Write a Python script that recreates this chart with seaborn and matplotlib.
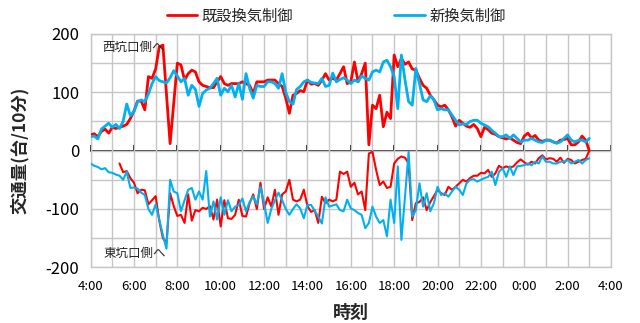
import numpy as np
import pandas as pd
import matplotlib
matplotlib.use("Agg")
import matplotlib.pyplot as plt
import seaborn as sns

# 10-minute samples from 4:00 to 3:00 of the following day
minutes = np.arange(0, 23 * 60 + 1, 10)
hours = 4 + minutes / 60

# traffic towards the west portal (positive) and east portal (negative), vehicles / 10 min
west_old = [
    27, 29, 24, 33, 37, 30,
    40, 38, 40, 42, 45, 55,
    68, 85, 85, 70, 127, 124,
    140, 178, 181, 96, 12, 80,
    150, 147, 121, 132, 138, 135,
    118, 112, 110, 108, 108, 118,
    127, 115, 112, 115, 115, 115,
    118, 115, 112, 98, 118, 118,
    118, 121, 121, 121, 115, 110,
    90, 64, 95, 98, 103, 101,
    121, 114, 115, 112, 121, 132,
    121, 124, 121, 132, 144, 115,
    118, 152, 118, 132, 150, 10,
    78, 72, 95, 41, 66, 55,
    164, 144, 158, 148, 152, 140,
    138, 124, 112, 107, 95, 87,
    78, 75, 78, 70, 58, 42,
    52, 47, 42, 40, 45, 38,
    24, 40, 36, 30, 28, 24,
    22, 20, 22, 18, 14, 12,
    25, 30, 22, 26, 18, 16,
    18, 18, 15, 13, 18, 19,
    21, 10, 10, 15, 25, 18,
    0,
]
west_new = [
    24, 25, 20, 37, 42, 47,
    40, 45, 38, 50, 80, 60,
    67, 84, 87, 84, 97, 115,
    127, 120, 118, 116, 125, 137,
    128, 118, 124, 95, 112, 105,
    76, 98, 104, 107, 115, 124,
    95, 107, 101, 112, 92, 115,
    88, 132, 107, 90, 112, 110,
    110, 118, 118, 115, 107, 132,
    100, 84, 80, 105, 110, 118,
    121, 117, 116, 115, 124, 110,
    112, 133, 118, 122, 125, 121,
    115, 121, 118, 128, 124, 121,
    135, 138, 135, 152, 155, 144,
    127, 72, 164, 121, 84, 78,
    141, 115, 87, 84, 94, 87,
    70, 72, 70, 70, 61, 52,
    44, 46, 45, 50, 52, 52,
    47, 44, 41, 35, 30, 24,
    24, 27, 21, 27, 21, 15,
    18, 18, 21, 18, 15, 14,
    18, 18, 15, 13, 15, 21,
    27, 18, 15, 18, 18, 15,
    21,
]
east_old = [
    np.nan, np.nan, np.nan, np.nan, np.nan, np.nan,
    np.nan, np.nan, -22, -37, -35, -47,
    -55, -73, -67, -68, -92, -85,
    -78, -120, -150, -158, -73, -95,
    -112, -110, -124, -75, -120, -102,
    -104, -98, -100, -95, -118, -84,
    -130, -85, -116, -117, -110, -84,
    -112, -113, -90, -75, -100, -55,
    -100, -80, -96, -67, -110, -75,
    -70, -50, -84, -87, -84, -67,
    -95, -105, -102, -124, -79, -90,
    -84, -87, -84, -36, -40, -36,
    -62, -55, -75, -70, -102, -5,
    -2, -33, -59, -53, -64, -62,
    -22, -14, -10, -12, -22, -119,
    -90, -88, -80, -102, -88, -78,
    -67, -73, -76, -62, -67, -62,
    -56, -50, -53, -47, -43, -43,
    -38, -39, -33, -45, -39, -26,
    -30, -27, -29, -27, -20, -15,
    -20, -24, -19, -22, -13, -8,
    -15, -13, -14, -19, -12, -21,
    -14, -16, -22, -19, -16, -14,
    0,
]
east_new = [
    -22, -26, -28, -32, -30, -37,
    -38, -41, -43, -50, -36, -64,
    -63, -65, -72, -76, -100, -110,
    -92, -118, -145, -168, -50, -70,
    -73, -104, -85, -67, -64, -84,
    -70, -84, -35, -113, -87, -118,
    -80, -110, -85, -104, -96, -93,
    -82, -104, -88, -78, -92, -62,
    -90, -124, -100, -85, -72, -85,
    -100, -110, -100, -92, -99, -116,
    -93, -93, -103, -113, -125, -80,
    -96, -94, -92, -102, -104, -84,
    -99, -102, -107, -110, -133, -124,
    -96, -113, -124, -119, -147, -84,
    -124, -27, -153, -79, -2, -113,
    -102, -56, -96, -73, -104, -90,
    -62, -76, -73, -79, -70, -62,
    -67, -76, -56, -50, -49, -53,
    -50, -47, -45, -36, -59, -36,
    -30, -45, -27, -42, -27, -26,
    -25, -22, -25, -19, -22, -10,
    -19, -19, -22, -22, -19, -19,
    -16, -22, -19, -16, -22, -16,
    -13,
]

tick_hours = list(range(4, 29, 2))
tick_labels = ["4:00", "6:00", "8:00", "10:00", "12:00", "14:00", "16:00",
               "18:00", "20:00", "22:00", "0:00", "2:00", "4:00"]
series_names = ["既設換気制御", "新換気制御"]

RED = "#FF0000"
BLUE = "#00B0F0"
GRID = "#C6C6C6"

sns.set_theme(style="white")
plt.rcParams["font.family"] = ["Noto Sans CJK JP", "DejaVu Sans"]

W, H = 640, 323
fig = plt.figure(figsize=(W / 100, H / 100), dpi=100)
left, right, top, bottom = 90.6, 611.0, 34.0, 267.3
ax = fig.add_axes([left / W, 1 - bottom / H, (right - left) / W, (bottom - top) / H])

df = pd.DataFrame({"hour": hours, "west_old": west_old, "west_new": west_new,
                   "east_old": east_old, "east_new": east_new})

sns.lineplot(data=df, x="hour", y="west_old", color=RED, lw=2.0, ax=ax,
             label=series_names[0], zorder=3)
sns.lineplot(data=df.dropna(subset=["east_old"]), x="hour", y="east_old",
             color=RED, lw=1.5, ax=ax, zorder=3)
sns.lineplot(data=df, x="hour", y="west_new", color=BLUE, lw=2.0, ax=ax,
             label=series_names[1], zorder=4)
sns.lineplot(data=df, x="hour", y="east_new", color=BLUE, lw=1.5, ax=ax, zorder=4)

ax.set_xlim(4, 28)
ax.set_ylim(-200, 200)

# hourly vertical grid, 50-unit horizontal grid
ax.set_xticks(tick_hours)
ax.set_xticklabels(tick_labels)
ax.set_xticks(np.arange(4, 29, 1), minor=True)
ax.set_yticks([-200, -100, 0, 100, 200])
ax.set_yticklabels(["-200", "-100", "0", "100", "200"])
ax.set_yticks(np.arange(-200, 201, 50), minor=True)
ax.grid(True, which="both", color=GRID, lw=1.0, zorder=0)
ax.set_axisbelow(True)

ax.tick_params(axis="x", which="both", length=0, pad=9, labelsize=9.5, colors="black")
ax.tick_params(axis="y", which="major", direction="out", length=4, width=1,
               color=GRID, pad=4, labelsize=12, labelcolor="black")
ax.tick_params(axis="y", which="minor", length=0)
for side in ["left", "right", "top", "bottom"]:
    ax.spines[side].set_color(GRID)
    ax.spines[side].set_linewidth(1.0)

# category axis crossing at zero, with 2-hour tick marks
zero_axis = ax.secondary_xaxis(0.5)
zero_axis.set_xticks(tick_hours)
zero_axis.set_xticklabels([""] * len(tick_hours))
zero_axis.tick_params(direction="out", length=4, width=1.2, color="black")
zero_axis.spines["bottom"].set_color("black")
zero_axis.spines["bottom"].set_linewidth(1.3)
zero_axis.spines["bottom"].set_zorder(5)

ax.set_xlabel("時刻", fontsize=13, fontweight="bold", labelpad=7)
ax.set_ylabel("交通量(台/10分)", fontsize=12.5, fontweight="bold", labelpad=12)

ax.text(4.55, 178, "西坑口側へ", fontsize=9, va="center", ha="left", zorder=6)
ax.text(4.6, -176, "東坑口側へ", fontsize=9, va="center", ha="left", zorder=6)

handles, labels = ax.get_legend_handles_labels()
ax.get_legend().remove()
fig.legend(handles, labels, loc="center", bbox_to_anchor=(336 / W, 1 - 16 / H),
           ncol=2, frameon=False, fontsize=11, handlelength=2.0,
           handletextpad=0.3, columnspacing=6.6)

fig.savefig("out.png", dpi=100)
